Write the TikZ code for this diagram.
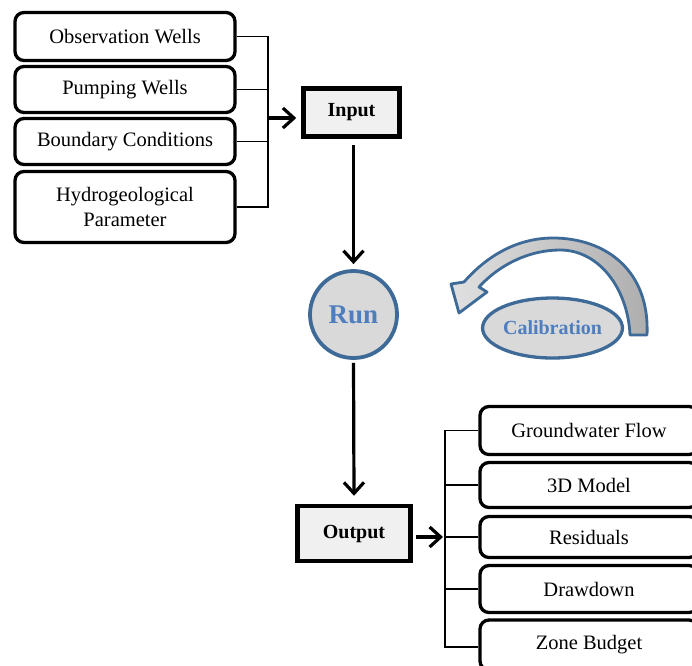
\documentclass[tikz,border=0pt]{standalone}
\usepackage{fontspec}
\setmainfont{Liberation Serif}
\usepackage{tikz}
\usetikzlibrary{arrows.meta,shapes.geometric}
\definecolor{runblue}{HTML}{3E6A98}
\definecolor{txtblue}{HTML}{4F7EBF}
\begin{document}
\begin{tikzpicture}[x=1pt,y=-1pt,
    item/.style={draw,line width=3.3pt,rounded corners=9pt,fill=white,
      align=center,inner sep=0pt,font=\fontsize{20.5}{25}\selectfont},
    stage/.style={draw,line width=4.5pt,fill=black!6,inner sep=0pt,
      font=\fontsize{20}{23}\selectfont\bfseries},
    link/.style={line width=1.8pt},
    flow/.style={line width=3.2pt,-{Straight Barb[length=11pt,width=20pt]}}]
      \useasboundingbox (0,0) rectangle (692,665);
      \clip (0,0) rectangle (692,665);
      % inputs
      \node[item,minimum width=220,minimum height=48] (obsw) at (125,36.5) {Observation Wells};
      \node[item,minimum width=220,minimum height=46] (pumpw) at (125,89.5) {Pumping Wells};
      \node[item,minimum width=220,minimum height=46] (bcond) at (125,141.5) {Boundary Conditions};
      \node[item,minimum width=220,minimum height=71] (hparam) at (125,207) {Hydrogeological\\Parameter};
      \node[stage,minimum width=96,minimum height=48] (input) at (351.5,112.5) {Input};
      \coordinate (ljoin) at (268,118);
      \draw[link] (obsw.east) -| (ljoin) |- (hparam.east);
      \draw[link] (pumpw.east) -- (pumpw.east -| ljoin);
      \draw[link] (bcond.east) -- (bcond.east -| ljoin);
      \draw[flow] (ljoin) -- ([xshift=-5pt]input.west |- ljoin);
      % run and calibration
      \node[circle,draw=runblue,line width=3.8pt,fill=black!15,minimum size=87,inner sep=0pt,
        text=txtblue,font=\fontsize{27}{30}\selectfont\bfseries] (run) at (353.5,314.5) {Run};
      \draw[flow] ([yshift=-6pt]input.south -| run) -- ([yshift=5pt]run.north);
      \shadedraw[left color=black!12,right color=black!32,draw=runblue,line width=2.8pt,line join=round]
        (647,335) .. controls (650,270) and (605,238) .. (553,238)
        .. controls (515,238) and (485,258) .. (464,282) -- (451,284) -- (459,313)
        -- (487,292) -- (479,287) .. controls (500,264) and (530,250) .. (560,250)
        .. controls (600,250) and (628,290) .. (630,335) -- cycle;
      \node[ellipse,draw=runblue,line width=3.3pt,fill=black!15,minimum width=128,minimum height=60,
        inner sep=0pt,text=txtblue,font=\fontsize{20}{23}\selectfont\bfseries] (calib) at (552.5,328) {Calibration};
      % outputs
      \node[stage,minimum width=113,minimum height=55] (output) at (354,533.5) {Output};
      \draw[flow] ([yshift=-3pt]run.south) -- ([yshift=8pt]output.north);
      \node[item,minimum width=218,minimum height=48] (gwflow) at (589,430.5) {Groundwater Flow};
      \node[item,minimum width=218,minimum height=45] (model3d) at (589,485) {3D Model};
      \node[item,minimum width=218,minimum height=41] (resid) at (589,537) {Residuals};
      \node[item,minimum width=218,minimum height=47] (drawd) at (589,589) {Drawdown};
      \node[item,minimum width=218,minimum height=50] (zbudget) at (589,645) {Zone Budget};
      \coordinate (rjoin) at (445,537);
      \draw[link] (gwflow.west) -| (rjoin) |- ([yshift=-2pt]zbudget.west);
      \draw[link] (model3d.west) -- (model3d.west -| rjoin);
      \draw[link] (resid.west) -- (rjoin);
      \draw[link] (drawd.west) -- (drawd.west -| rjoin);
      \draw[flow] ([xshift=3pt]output.east |- rjoin) -- ([xshift=-2pt]rjoin);
\end{tikzpicture}
\end{document}
